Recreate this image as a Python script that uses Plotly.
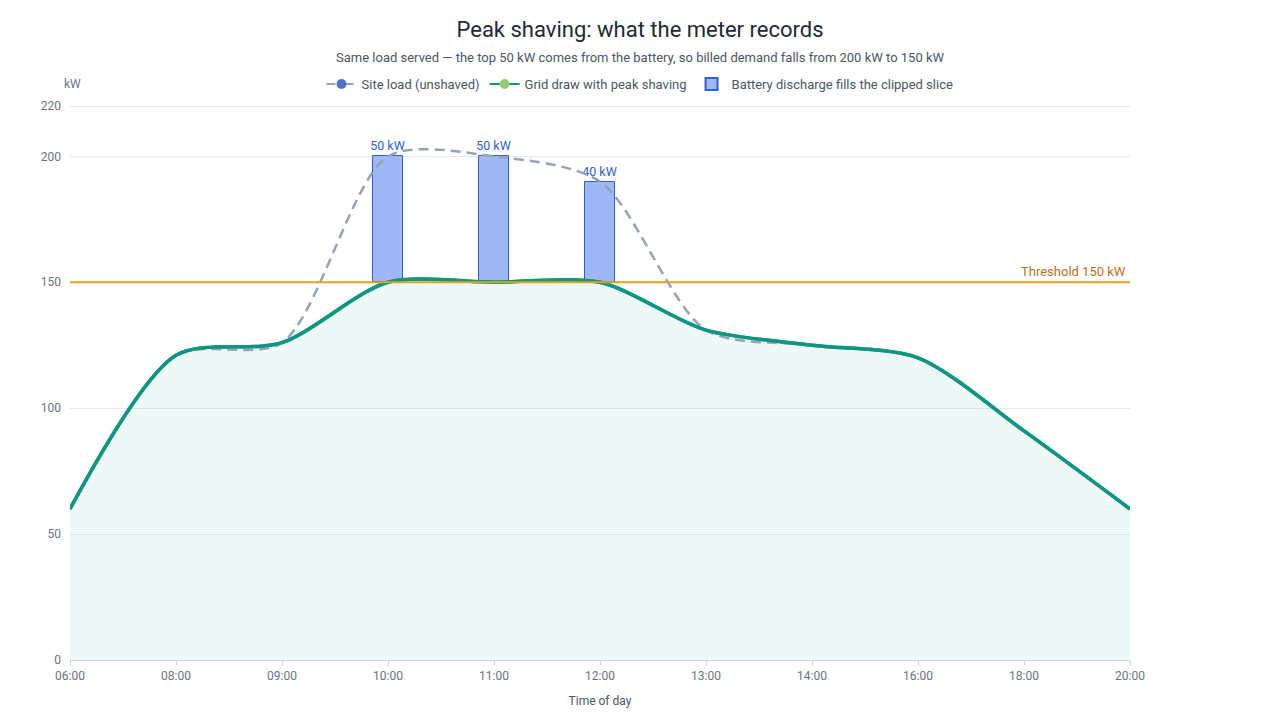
import plotly.graph_objects as go

# Data
times = ["06:00", "08:00", "09:00", "10:00", "11:00", "12:00",
         "13:00", "14:00", "16:00", "18:00", "20:00"]
site_load = [60, 121, 126, 200, 200, 190, 131, 125, 120, 91, 60]
grid_draw = [60, 121, 126, 150, 150, 150, 131, 125, 120, 91, 60]

battery_times = ["10:00", "11:00", "12:00"]
battery_base = [150, 150, 150]
battery_kw = [50, 50, 40]
battery_labels = ["50 kW", "50 kW", "40 kW"]

threshold = 150
y_ticks = [0, 50, 100, 150, 200, 220]

FONT = "Roboto, sans-serif"
TEAL = "#0f9683"
SLATE = "#94a3b8"
BAR_FILL = "#9eb8f6"
BAR_EDGE = "#2f5fd0"
ORANGE = "#e3a21a"
SMOOTH = 0.8

# page body has an 8px margin, so figure is sized to fit inside the window
W, H = 1264, 704
ML, MR, MT, MB = 62, 142, 97, 52
PH = H - MT - MB
PW = W - ML - MR
CX = (W / 2 - ML) / PW  # page centre in paper coords

fig = go.Figure()

# Grid draw with fill to zero
fig.add_trace(go.Scatter(
    x=times, y=grid_draw, mode="lines", showlegend=False,
    line=dict(color=TEAL, width=3.5, shape="spline", smoothing=SMOOTH),
    fill="tozeroy", fillcolor="rgba(15,150,131,0.07)", hoverinfo="skip"
))

# Site load dashed
fig.add_trace(go.Scatter(
    x=times, y=site_load, mode="lines", showlegend=False,
    line=dict(color=SLATE, width=2.5, dash="10px,6px", shape="spline", smoothing=SMOOTH),
    hoverinfo="skip"
))

# Battery bars
fig.add_trace(go.Bar(
    x=battery_times, y=battery_kw, base=battery_base, width=0.28,
    marker=dict(color=BAR_FILL, line=dict(color=BAR_EDGE, width=1)),
    text=battery_labels, textposition="outside", constraintext="none",
    textfont=dict(color=BAR_EDGE, size=12.5, family=FONT),
    cliponaxis=False, showlegend=False
))

# Grid draw line on top
fig.add_trace(go.Scatter(
    x=times, y=grid_draw, mode="lines", showlegend=False,
    line=dict(color=TEAL, width=3.5, shape="spline", smoothing=SMOOTH),
    hoverinfo="skip"
))

# Legend-only entries
fig.add_trace(go.Scatter(
    x=[None], y=[None], mode="lines+markers", name="Site load (unshaved)",
    line=dict(color=SLATE, width=2, dash="dash"),
    marker=dict(color="#5470c6", size=10)
))
fig.add_trace(go.Scatter(
    x=[None], y=[None], mode="lines+markers", name="Grid draw with peak shaving",
    line=dict(color=TEAL, width=2),
    marker=dict(color="#91cc75", size=10)
))
fig.add_trace(go.Bar(
    x=[None], y=[None], name="Battery discharge fills the clipped slice",
    marker=dict(color=BAR_FILL, line=dict(color=BAR_EDGE, width=2))
))

fig.add_shape(type="line", xref="paper", x0=0, x1=1, yref="y",
              y0=threshold, y1=threshold,
              line=dict(color=ORANGE, width=2))
fig.add_annotation(xref="paper", x=0.998, yref="y", y=threshold,
                   text=f"Threshold {threshold} kW", showarrow=False,
                   xanchor="right", yanchor="bottom", yshift=1,
                   font=dict(color="#b8702a", size=13, family=FONT))
fig.add_annotation(xref="paper", x=-8 / PW, yref="paper", y=1 + 21 / PH,
                   text="kW", showarrow=False, xanchor="left", yanchor="middle",
                   font=dict(color="#6b7280", size=12, family=FONT))
fig.add_annotation(xref="paper", x=CX, yref="paper", y=1 + 48 / PH,
                   text="Same load served — the top 50 kW comes from the battery, "
                        "so billed demand falls from 200 kW to 150 kW",
                   showarrow=False, xanchor="center", yanchor="middle",
                   font=dict(color="#4b5563", size=13, family=FONT))

fig.update_layout(
    width=W, height=H,
    paper_bgcolor="white", plot_bgcolor="white",
    font=dict(family=FONT, color="#6b7280", size=12),
    margin=dict(l=ML, r=MR, t=MT, b=MB),
    title=dict(
        text="Peak shaving: what the meter records",
        x=0.5, xanchor="center", xref="container",
        y=1 - 21 / H, yanchor="middle", yref="container",
        font=dict(size=22, color="#1f2937", family=FONT)
    ),
    legend=dict(orientation="h", x=CX, xanchor="center",
                y=1 + 21 / PH, yanchor="middle",
                font=dict(size=13, color="#4b5563", family=FONT),
                itemwidth=30, traceorder="normal"),
    bargap=0,
    xaxis=dict(
        type="category", categoryorder="array", categoryarray=times,
        range=[0, len(times) - 1], showgrid=False, automargin=False,
        showline=True, linecolor="#cbd5e1", linewidth=1,
        ticks="outside", ticklen=5, tickcolor="#cbd5e1",
        tickfont=dict(size=12, color="#6b7280"),
        title=dict(text="Time of day", font=dict(size=12, color="#4b5563"), standoff=14),
        zeroline=False
    ),
    yaxis=dict(
        range=[0, 220.4], tickvals=y_ticks, showgrid=True, gridcolor="#e2e8f0",
        zeroline=False, showline=False, ticks="", ticklabelstandoff=8,
        tickfont=dict(size=12, color="#6b7280"), automargin=False
    ),
)

fig.write_html("out.html")
